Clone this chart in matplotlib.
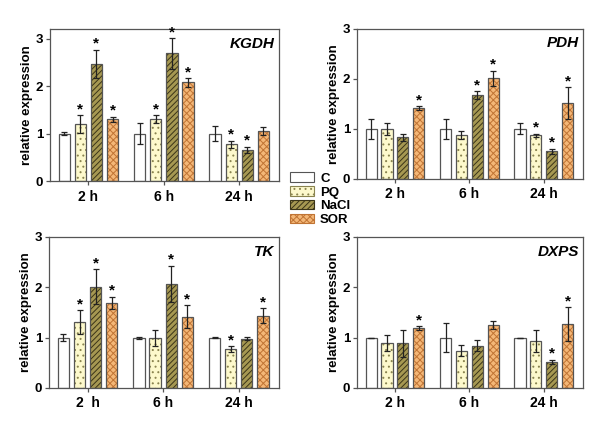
import numpy as np
import matplotlib
matplotlib.use("Agg")
import matplotlib.pyplot as plt
from matplotlib.patches import Patch

plt.rcParams['font.family'] = ['Liberation Sans', 'DejaVu Sans']
plt.rcParams['font.weight'] = 'bold'
plt.rcParams['hatch.linewidth'] = 0.7

### data
treatments = ["C", "PQ", "NaCl", "SOR"]
times = ["2 h", "6 h", "24 h"]
times_tk = ["2  h", "6 h", "24 h"]

# rows = time points, cols = C, PQ, NaCl, SOR
kgdh_mean = [[1.0, 1.20, 2.47, 1.31], [1.0, 1.31, 2.69, 2.08], [1.0, 0.78, 0.66, 1.06]]
kgdh_err = [[0.03, 0.19, 0.30, 0.05], [0.22, 0.08, 0.32, 0.09], [0.16, 0.07, 0.07, 0.08]]
kgdh_sig = [[0, 1, 1, 1], [0, 1, 1, 1], [0, 1, 1, 0]]

pdh_mean = [[1.0, 0.99, 0.83, 1.41], [1.0, 0.87, 1.67, 2.01], [1.0, 0.87, 0.55, 1.51]]
pdh_err = [[0.20, 0.12, 0.07, 0.04], [0.20, 0.08, 0.08, 0.15], [0.11, 0.03, 0.05, 0.32]]
pdh_sig = [[0, 0, 0, 1], [0, 0, 1, 1], [0, 1, 1, 1]]

tk_mean = [[1.0, 1.31, 2.01, 1.69], [1.0, 0.99, 2.07, 1.42], [1.0, 0.77, 0.98, 1.44]]
tk_err = [[0.07, 0.23, 0.35, 0.12], [0.02, 0.16, 0.36, 0.22], [0.01, 0.06, 0.03, 0.14]]
tk_sig = [[0, 1, 1, 1], [0, 0, 1, 1], [0, 1, 0, 1]]

dxps_mean = [[1.0, 0.89, 0.89, 1.19], [1.0, 0.74, 0.84, 1.25], [1.0, 0.94, 0.52, 1.27]]
dxps_err = [[0.0, 0.16, 0.27, 0.04], [0.29, 0.11, 0.11, 0.08], [0.0, 0.22, 0.04, 0.33]]
dxps_sig = [[0, 0, 0, 1], [0, 0, 0, 0], [0, 0, 1, 1]]

# fill colour, hatch, hatch colour
styles = [("white", "", "#555555"),
          ("#fdf9cc", "...", "#8a8450"),
          ("#a69852", "//////", "#3a3418"),
          ("#f4b777", "xxxxx", "#c07434")]

panels = [
    ("KGDH", kgdh_mean, kgdh_err, kgdh_sig, times, [0.0833, 0.577, 0.382, 0.355], 3.2),
    ("PDH", pdh_mean, pdh_err, pdh_sig, times, [0.595, 0.583, 0.377, 0.350], 3.0),
    ("TK", tk_mean, tk_err, tk_sig, times_tk, [0.0817, 0.0956, 0.383, 0.352], 3.0),
    ("DXPS", dxps_mean, dxps_err, dxps_sig, times, [0.595, 0.0956, 0.377, 0.352], 3.0),
]

fig = plt.figure(figsize=(6, 4.29), dpi=100)

offs = (np.arange(4) - 1.5) * 0.213
width = 0.15
x = np.arange(3)

for name, mean, err, sig, xlabs, pos, ytop in panels:
    ax = fig.add_axes(pos)
    mean = np.array(mean)
    err = np.array(err)
    for j in range(4):
        fc, hatch, hc = styles[j]
        xs = x + offs[j]
        # fill + hatch first, then the outline on top
        ax.bar(xs, mean[:, j], width, color=fc, hatch=hatch, edgecolor=hc, linewidth=0, zorder=2)
        ax.bar(xs, mean[:, j], width, fill=False, edgecolor="#555555", linewidth=0.9, zorder=3)
        ax.errorbar(xs, mean[:, j], yerr=err[:, j], fmt="none", ecolor="#222222",
                    elinewidth=0.9, capsize=2.5, capthick=0.9, zorder=4)
        for i in range(3):
            if sig[i][j]:
                ax.text(xs[i], mean[i, j] + err[i, j] - 0.02, "*", ha="center", va="bottom",
                        fontsize=11, zorder=5)
    ax.set_xlim(-0.51, 2.53)
    ax.set_ylim(0, ytop)
    ax.set_yticks([0, 1, 2, 3])
    ax.set_xticks(x)
    ax.set_xticklabels(xlabs, fontsize=10, fontweight="bold")
    ax.tick_params(axis="y", labelsize=9.5, length=3, width=0.9, color="#555555", pad=2)
    ax.tick_params(axis="x", length=3, width=0.9, color="#555555", pad=3)
    for s in ax.spines.values():
        s.set_color("#555555")
        s.set_linewidth(0.9)
    ax.set_ylabel("relative expression", fontsize=9.5, fontweight="bold", labelpad=2)
    ax.text(0.98, 0.95, name, transform=ax.transAxes, ha="right", va="top",
            fontsize=11, fontweight="bold", style="italic")

handles = []
for j in range(4):
    fc, hatch, hc = styles[j]
    handles.append(Patch(facecolor=fc, hatch=hatch, edgecolor=hc if j else "#555555", linewidth=0.8))
fig.legend(handles, treatments, loc="upper left", bbox_to_anchor=(0.483, 0.598),
           frameon=False, fontsize=9.5, handlelength=1.8, handleheight=0.7,
           labelspacing=0.12, handletextpad=0.5, borderaxespad=0, borderpad=0)

fig.savefig("out.png", dpi=100)
